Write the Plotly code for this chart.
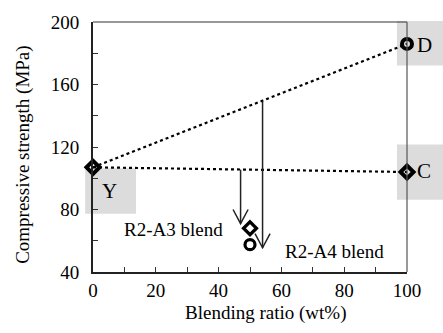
import plotly.graph_objects as go

# --- data ---
pure_names = ["Y", "D", "C"]
pure_x = [0, 100, 100]
pure_y = [107, 186, 104]
pure_symbols = ["diamond-open", "circle-open", "diamond-open"]

blend_names = ["R2-A3 blend", "R2-A4 blend"]
blend_x = [50, 50]
blend_y = [68, 57.5]
blend_symbols = ["diamond-open", "circle-open"]

arrow_x = [47, 54]
arrow_y0 = [105.5, 149]
arrow_y1 = [71, 55.5]

x_ticks = [0, 20, 40, 60, 80, 100]
y_ticks = [40, 80, 120, 160, 200]

FONT = "Tinos"
fig = go.Figure()

# dotted lines Y->D, Y->C
for i in (1, 2):
    fig.add_trace(go.Scatter(x=[pure_x[0], pure_x[i]], y=[pure_y[0], pure_y[i]],
                             mode="lines", line=dict(color="black", width=2.2, dash="dot"),
                             showlegend=False, hoverinfo="skip", cliponaxis=False))

fig.add_trace(go.Scatter(x=pure_x, y=pure_y, mode="markers",
                         marker=dict(symbol=pure_symbols, size=10, color="black",
                                     line=dict(color="black", width=4)),
                         showlegend=False, cliponaxis=False))
fig.add_trace(go.Scatter(x=blend_x, y=blend_y, mode="markers",
                         marker=dict(symbol=blend_symbols, size=10, color="black",
                                     line=dict(color="black", width=3.2)),
                         showlegend=False, cliponaxis=False))

shapes = []
# gray label boxes (paper coordinates)
for x0, x1, y0, y1 in [(-0.025, 0.137, 0.233, 0.415), (0.968, 1.12, 0.826, 1.004), (0.968, 1.12, 0.289, 0.51)]:
    shapes.append(dict(type="rect", xref="paper", yref="paper", x0=x0, x1=x1, y0=y0, y1=y1,
                       fillcolor="#dcdcdc", line=dict(width=0), layer="below"))
# arrows
hw, hl = 2.4, 9
for ax, a0, a1 in zip(arrow_x, arrow_y0, arrow_y1):
    shapes.append(dict(type="line", x0=ax, x1=ax, y0=a0, y1=a1, line=dict(color="#222222", width=1.5)))
    shapes.append(dict(type="path", path=f"M {ax-hw},{a1+hl} L {ax},{a1} L {ax+hw},{a1+hl}",
                       line=dict(color="#222222", width=1.5)))
# top/right frame lines
shapes.append(dict(type="line", xref="paper", yref="paper", x0=0, x1=1, y0=1, y1=1, line=dict(color="#333333", width=1.2)))
shapes.append(dict(type="line", xref="paper", yref="paper", x0=1, x1=1, y0=0, y1=1, line=dict(color="#555555", width=1.2)))

TXT = dict(family=FONT, size=19, color="black")

def ann(text, x, y, size=19, xref="paper", yref="paper", **kw):
    return dict(text=text, x=x, y=y, xref=xref, yref=yref, showarrow=False,
                xanchor="center", yanchor="middle",
                font=dict(family=FONT, size=size, color="black"), **kw)

annotations = [
    ann("Y", 0.054, 0.324, 21),
    ann("D", 1.055, 0.909, 21),
    ann("C", 1.055, 0.403, 21),
    ann(blend_names[0], 25.5, 67, xref="x", yref="y"),
    ann(blend_names[1], 76.8, 53.2, xref="x", yref="y"),
    ann("Blending ratio (wt%)", 0.55, -0.163),
    ann("Compressive strength (MPa)", -0.225, 0.47, textangle=-90),
]

fig.update_layout(
    width=443, height=333, margin=dict(l=93, r=36, t=19, b=61),
    paper_bgcolor="white", plot_bgcolor="white",
    font=TXT,
    shapes=shapes, annotations=annotations,
    xaxis=dict(range=[0, 100], tickvals=x_ticks, ticks="inside", ticklen=5, tickwidth=1.2,
               tickcolor="#333333", showline=True, linecolor="#222222", linewidth=2, showgrid=False,
               zeroline=False, minor=dict(ticks="inside", dtick=10, ticklen=5, tickcolor="#333333"),
               tickfont=TXT),
    yaxis=dict(range=[40, 200], tickvals=y_ticks, ticks="inside", ticklen=5, tickwidth=1.2,
               tickcolor="#333333", showline=True, linecolor="#222222", linewidth=2, showgrid=False,
               zeroline=False, minor=dict(ticks="inside", dtick=20, ticklen=5, tickcolor="#333333"),
               tickfont=TXT, ticklabelstandoff=8),
)

fig.write_html("out.html")
